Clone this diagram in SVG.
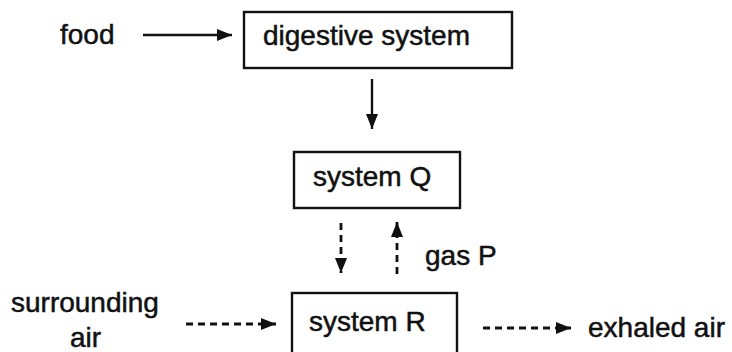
<svg xmlns="http://www.w3.org/2000/svg" width="732" height="352" viewBox="0 0 732 352">
  <style>
    .box { fill: #ffffff; stroke: #111111; stroke-width: 2.4; }
    .t { font-family: "Liberation Sans", Arial, sans-serif; font-size: 28px; fill: #111111; stroke: #111111; stroke-width: 0.5; }
    .solid { stroke: #111111; stroke-width: 2.4; fill: none; }
    .dash { stroke: #111111; stroke-width: 2.8; fill: none; stroke-dasharray: 7 5; }
  </style>
  <defs>
    <marker id="ah" markerUnits="userSpaceOnUse" markerWidth="17" markerHeight="14" refX="15" refY="7" orient="auto">
      <path d="M0,1 L15,7 L0,13 z" fill="#111111"/>
    </marker>
  </defs>
  <rect width="732" height="352" fill="#ffffff"/>

  <g id="food">
    <text class="t" x="60" y="44">food</text>
  </g>
  <g id="digestive-system">
    <rect class="box" x="244" y="12" width="268" height="56"/>
    <text class="t" x="263" y="45">digestive system</text>
  </g>
  <g id="system-Q">
    <rect class="box" x="294" y="152" width="166" height="56"/>
    <text class="t" x="313" y="186">system Q</text>
  </g>
  <g id="gas-P">
    <text class="t" x="425" y="265">gas P</text>
  </g>
  <g id="surrounding-air">
    <text class="t" x="11" y="312">surrounding</text>
    <text class="t" x="70" y="347">air</text>
  </g>
  <g id="system-R">
    <rect class="box" x="292" y="293" width="165" height="70"/>
    <text class="t" x="309" y="331">system R</text>
  </g>
  <g id="exhaled-air">
    <text class="t" x="588" y="337">exhaled air</text>
  </g>

  <g id="connectors">
    <line class="solid" x1="143" y1="35" x2="232" y2="35" marker-end="url(#ah)"/>
    <line class="solid" x1="372" y1="79" x2="372" y2="129" marker-end="url(#ah)"/>
    <line class="dash" x1="341" y1="223" x2="341" y2="273" marker-end="url(#ah)"/>
    <line class="dash" x1="397" y1="274" x2="397" y2="222" marker-end="url(#ah)"/>
    <line class="dash" x1="186" y1="324" x2="276" y2="324" marker-end="url(#ah)"/>
    <line class="dash" x1="483" y1="328" x2="571" y2="328" marker-end="url(#ah)"/>
  </g>
</svg>
